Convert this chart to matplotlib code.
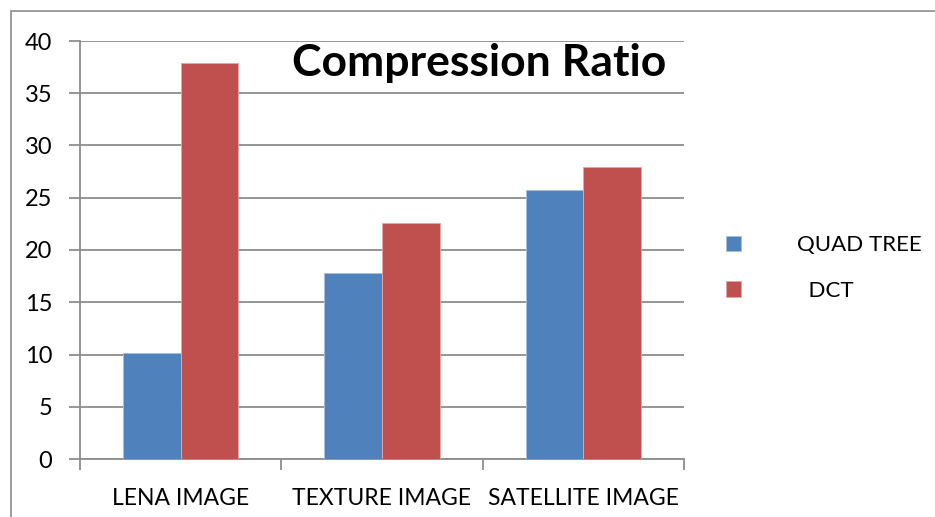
import numpy as np
import matplotlib.pyplot as plt
from matplotlib.patches import Rectangle

categories = ['LENA IMAGE', 'TEXTURE IMAGE', 'SATELLITE IMAGE']
quad_tree = [10.1, 17.8, 25.7]
dct = [37.9, 22.6, 27.9]
series_names = ['QUAD TREE', '  DCT']
yticks = [0, 5, 10, 15, 20, 25, 30, 35, 40]

blue = '#4f81bd'
red = '#c0504d'
grid_col = '#8c8c8c'

plt.rcParams['font.family'] = ['Lato', 'DejaVu Sans']

W, H = 935, 517
fig = plt.figure(figsize=(W / 100, H / 100), dpi=100)

# outer chart frame (right/bottom sides run off the image)
fig.patches.append(Rectangle((11 / W, -0.1), 1.1, 1 - 11 / H + 0.1,
                             transform=fig.transFigure, fill=False,
                             edgecolor='#8c8c8c', linewidth=1.2))

ax = fig.add_axes([80 / W, 1 - 459 / H, (684 - 80) / W, (459 - 41) / H])

x = np.arange(len(categories))
bw = 0.286
ax.bar(x - bw / 2, quad_tree, bw, color=blue, edgecolor='#a7c0de', linewidth=0.6, label=series_names[0], zorder=3)
ax.bar(x + bw / 2, dct, bw, color=red, edgecolor='#e0a9a8', linewidth=0.6, label=series_names[1], zorder=3)

ax.set_xlim(-0.5, 2.5)
ax.set_ylim(0, 40)
ax.set_yticks(yticks)
ax.yaxis.grid(True, color=grid_col, linewidth=1.3, zorder=0)
ax.set_axisbelow(True)

for s in ['top', 'right']:
    ax.spines[s].set_visible(False)
ax.spines['left'].set_color(grid_col)
ax.spines['bottom'].set_color(grid_col)
ax.spines['left'].set_linewidth(1.3)
ax.spines['bottom'].set_linewidth(1.3)

# category labels centred, ticks on category boundaries
ax.set_xticks([-0.5, 0.5, 1.5, 2.5])
ax.set_xticklabels([])
ax.tick_params(axis='x', length=8, width=1.3, color=grid_col, direction='out')
ax.set_xticks(x, minor=True)
ax.set_xticklabels(categories, minor=True, fontsize=16.5)
ax.tick_params(axis='x', which='minor', length=0, pad=21)
ax.tick_params(axis='y', length=8, width=1.3, color=grid_col, labelsize=17, pad=12)

ax.text(0.66, 0.947, 'Compression Ratio', transform=ax.transAxes, ha='center', va='center',
        fontsize=32, fontweight='bold')

ax.legend(loc='center left', bbox_to_anchor=(706 / W, 1 - 268 / H), bbox_transform=fig.transFigure,
          frameon=False, fontsize=16, handlelength=0.68, handleheight=0.68, handletextpad=2.5,
          labelspacing=1.16)

fig.savefig('out.png', dpi=100)
